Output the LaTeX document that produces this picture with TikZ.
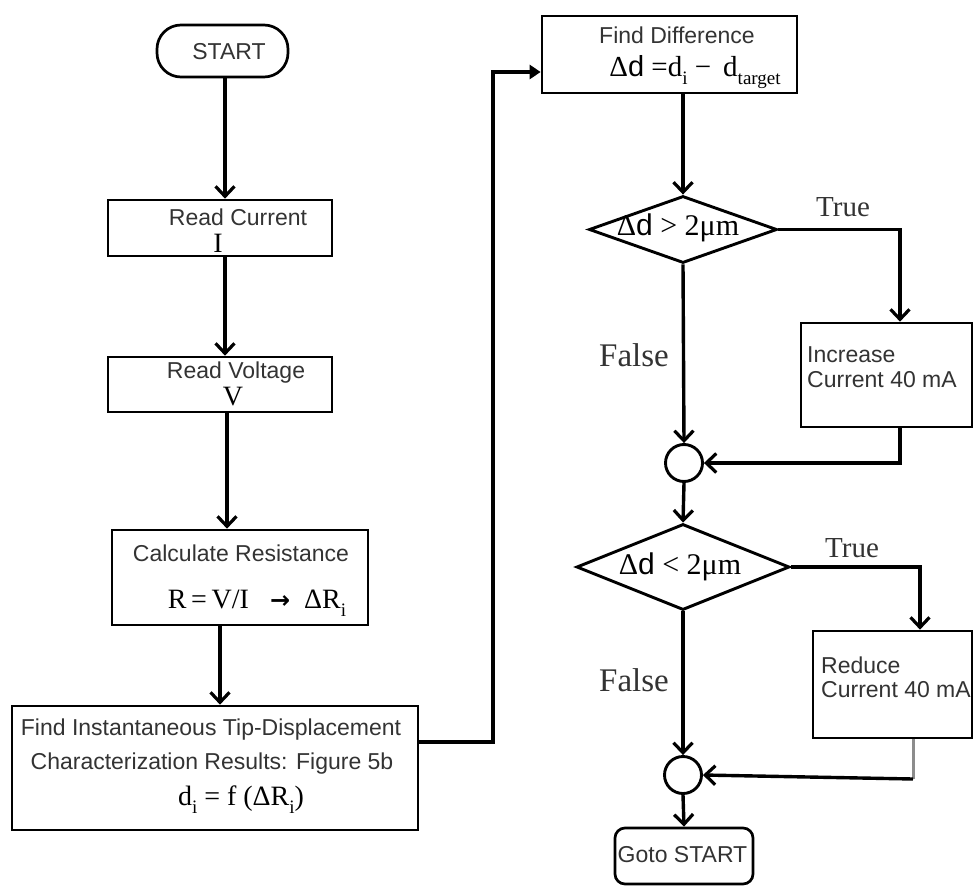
\documentclass[tikz,border=0pt]{standalone}
\usepackage{fontspec}
\setmainfont{Liberation Serif}
\setsansfont{Liberation Sans}
\newfontfamily\arrowfont{DejaVu Sans}
\usetikzlibrary{arrows.meta,shapes.geometric}
\newcommand\lowsub[1]{\raisebox{-0.28em}{\fontsize{19}{19}\selectfont #1}}
\begin{document}
\begin{tikzpicture}[x=1pt,y=-1pt,
  box/.style={draw, line width=2.7pt, inner sep=0pt},
  dia/.style={draw, diamond, line width=2.9pt, inner sep=0pt},
  joint/.style={draw, circle, line width=2.9pt, inner sep=0pt, minimum size=37pt},
  sans/.style={font=\fontsize{23}{27}\selectfont\sffamily, text=black!80, inner sep=0pt},
  serif/.style={font=\fontsize{28}{32}\selectfont, inner sep=0pt},
  lbl/.style={font=\fontsize{29}{34}\selectfont, text=black!80, inner sep=0pt},
  flow/.style={line width=3.4pt, -{Straight Barb[length=10pt,width=19pt,line width=3.2pt]}},
  link/.style={line width=3.4pt},
]
\useasboundingbox[fill=white] (0,0) rectangle (974,888);

% left column
\node[box, rounded corners=24pt, minimum width=131pt, minimum height=52pt] (start) at (222.5,51) {};
\node[sans] (startT) at (229,52) {START};

\node[box, minimum width=224pt, minimum height=56pt] (rc) at (220,228) {};
\node[sans] (rcT) at (238,217) {Read Current};
\node[serif] (rcI) at (218,243) {I};

\node[box, minimum width=224pt, minimum height=55pt] (rv) at (220,384.5) {};
\node[sans] (rvT) at (236,373) {Read Voltage};
\node[serif] (rvV) at (233,397) {V};

\node[box, minimum width=256pt, minimum height=95pt] (cr) at (240,577.5) {};
\node[sans] (crT) at (241,553) {Calculate Resistance};
\node[serif] (crF) at (257,603) {R\,=\,V/I \ \ {\arrowfont\bfseries\fontsize{24}{24}\selectfont →} \ ΔR\lowsub{i}};

\node[box, minimum width=406pt, minimum height=124pt] (fi) at (215,768) {};
\node[sans] (fiT1) at (211,730) {Find Instantaneous Tip-Displacement};
\node[sans] (fiT2) at (212,764) {Characterization Results: Figure 5b};
\node[serif] (fiF) at (241,800) {d\lowsub{i} = f (ΔR\lowsub{i})};

% right column
\node[box, minimum width=255pt, minimum height=77pt] (fd) at (669.5,54.5) {};
\node[sans] (fdT) at (677,35) {Find Difference};
\node[serif, font=\fontsize{29}{33}\selectfont] (fdF) at (695,72) {Δ{\sffamily d} =d\lowsub{i} − \,d\lowsub{target}};

\node[dia, minimum width=188pt, minimum height=67pt] (d1) at (683,229.5) {};
\node[serif, font=\fontsize{30}{34}\selectfont] (d1T) at (678,228) {Δ{\sffamily d} > 2μm};
\node[lbl] (true1) at (843,207) {True};
\node[lbl, font=\fontsize{33}{38}\selectfont] (false1) at (634,355) {False};

\node[box, minimum width=171pt, minimum height=104pt] (inc) at (886.5,375) {};
\node[sans, anchor=west] (incT1) at (807,355) {Increase};
\node[sans, anchor=west] (incT2) at (807,380) {Current 40 mA};

\node[joint] (c1) at (684,463) {};

\node[dia, minimum width=213pt, minimum height=86pt] (d2) at (683,567) {};
\node[serif, font=\fontsize{30}{34}\selectfont] (d2T) at (680,567) {Δ{\sffamily d} < 2μm};
\node[lbl] (true2) at (852,548) {True};
\node[lbl, font=\fontsize{33}{38}\selectfont] (false2) at (634,680) {False};

\node[box, minimum width=159pt, minimum height=107pt] (red) at (892.5,684.5) {};
\node[sans, anchor=west] (redT1) at (821,665) {Reduce};
\node[sans, anchor=west] (redT2) at (821,690) {Current 40 mA};

\node[joint] (c2) at (683,775) {};

\node[box, rounded corners=10pt, minimum width=138pt, minimum height=56pt] (goto) at (684,856) {};
\node[sans] (gotoT) at (682.5,855) {Goto START};

% helper coordinates
\coordinate (j1) at (493,742);
\coordinate (j2) at (493,72);
\coordinate (t1) at (900,229.5);
\coordinate (t2) at (920,567);
\coordinate (r1) at (913,779);

% connectors
\draw[flow] ([xshift=2.5pt]start.south) -- ([xshift=5pt]rc.north);
\draw[flow] ([xshift=5pt]rc.south) -- ([xshift=5pt]rv.north);
\draw[flow] ([xshift=7pt]rv.south) -- ([xshift=7pt]rv.south |- cr.north);
\draw[flow] ([xshift=-20pt]cr.south) -- ([xshift=-20pt]cr.south |- fi.north);
\draw[link, -{Triangle[length=11pt,width=14pt]}] (fi.east |- j1) -- (j1) -- (j2) -- (fd.west |- j2);
\draw[flow] (d1.north |- fd.south) -- (d1.north);
\draw[flow] (d1.east) -- (t1) -- (t1 |- inc.north);
\draw[flow] (d1.south) -- (c1.north);
\draw[flow] (t1 |- inc.south) -- (t1 |- c1.east) -- (c1.east);
\draw[flow] (c1.south) -- (d2.north);
\draw[flow] (d2.east) -- (t2) -- (t2 |- red.north);
\draw[flow] (d2.south) -- (c2.north);
\draw[line width=3pt, black!45] (r1 |- red.south) -- (r1);
\draw[flow] (r1) -- (c2.east);
\draw[flow] (c2.south) -- (goto.north);
\end{tikzpicture}
\end{document}
